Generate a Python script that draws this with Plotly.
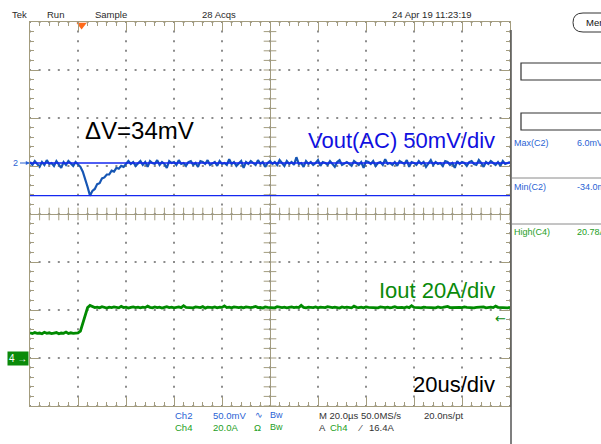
import plotly.graph_objects as go
import numpy as np

# ---------------- data ----------------
time_us = list(range(-100, 101))          # sample times, 1 us apart, 0 = screen centre

vout_mv = [
    # t = -100 .. -81 (before the load step)
    1, -2, 2, -1, -4, 1, -2, 3, -1, 0, -3, 2, -1, -5, 1, -2, 2, 0, -3, 1,
    # t = -80 .. -60 (undershoot and recovery)
    -1, -4, -9, -16, -25, -34, -29, -27, -22, -21, -16, -15, -12, -12, -8, -9, -5, -6, -3, -4, -1,
    # t = -59 .. 100
    2, -1, 1, -3, 0, 2, -2, 1, -4, 2, 0, -1, 3, -2, 1, -1, -5, 2, 0, 1,
    -2, 3, -1, 0, -3, 1, 2, -2, 0, -4, 2, 1, -1, 3, -2, 0, 1, -3, 2, -1,
    0, -2, 4, -1, 1, -3, 0, 2, -5, 1, -1, 2, 0, -2, 3, -1, 1, -4, 0, 2,
    -1, 1, -2, 3, 0, -3, 2, -1, 1, -2, 6, -1, 0, -4, 2, -1, 1, -2, 0, 3,
    -3, 1, 0, -2, 2, -1, -4, 1, 3, -2, 0, 1, -1, -3, 2, 0, -2, 1, -5, 2,
    1, -1, 2, -3, 0, 1, -2, 4, -1, 0, -2, 1, -3, 2, 0, -1, 3, -4, 1, 0,
    -2, 2, -1, 1, -4, 0, 3, -2, 1, -1, 0, -3, 2, 1, -2, 0, -5, 2, -1, 1,
    0, -3, 1, 2, -1, -2, 3, 0, -4, 1, -1, 2, 0, -2, 1, -3, 2, -1, 0, 1,
]

iout_a = [
    # t = -100 .. -80
    10.5, 10.2, 10.6, 10.3, 10.4, 10.1, 10.7, 10.3, 10.5, 10.2, 10.4, 10.6, 10.1, 10.4,
    10.3, 10.8, 10.2, 10.5, 10.3, 10.4, 10.5,
    # t = -79 .. -75 (step)
    11.2, 14.5, 18.2, 21.0, 21.9,
    # t = -74 .. 100
    21.3, 21.0, 21.2, 20.9, 21.4, 21.1, 20.8, 21.2, 21.0, 21.3, 21.1, 20.9, 21.5, 21.0, 21.2, 20.8, 21.1, 21.3, 21.0, 21.2,
    20.9, 21.2, 21.0, 21.6, 21.1, 20.9, 21.3, 21.0, 21.2, 20.8, 21.1, 21.4, 21.0, 21.2, 20.9, 21.1, 21.3, 21.0, 21.8, 21.1,
    21.0, 21.2, 20.9, 21.3, 21.1, 21.0, 21.4, 20.8, 21.2, 21.1, 21.0, 21.3, 20.9, 21.2, 21.1, 21.7, 21.0, 21.2, 20.9, 21.3,
    21.1, 21.0, 21.2, 20.9, 21.3, 21.1, 21.0, 21.2, 21.5, 21.0, 21.1, 20.8, 21.3, 21.1, 21.0, 21.2, 20.9, 21.4, 21.1, 21.0,
    21.2, 20.9, 21.1, 21.3, 21.0, 21.2, 21.0, 21.9, 21.1, 20.9, 21.2, 21.1, 21.0, 21.3, 20.9, 21.2, 21.1, 21.0, 21.4, 21.1,
    21.0, 21.2, 21.1, 20.8, 21.3, 21.0, 21.2, 21.1, 20.9, 21.6, 21.1, 21.0, 21.2, 20.9, 21.3, 21.1, 21.0, 21.2, 21.1, 20.9,
    21.3, 21.1, 21.0, 21.2, 20.9, 21.1, 21.4, 21.0, 21.2, 21.1, 20.9, 21.3, 21.0, 21.8, 21.1, 21.2, 21.0, 20.9, 21.2, 21.1,
    21.0, 21.2, 21.1, 20.9, 21.3, 21.0, 21.1, 21.2, 21.5, 21.0, 21.1, 20.9, 21.2, 21.1, 21.0, 21.3, 21.1, 21.0, 21.2, 20.9,
    21.1, 21.2, 21.0, 21.3, 20.9, 21.1, 21.2, 21.0, 21.6, 21.1, 21.0, 21.2, 21.1, 20.9, 21.1,
]

cursor_mv = [0, -34]
trigger_level_a = 16.4
trigger_time_us = -78.5

header_labels = ["Tek", "Run", "Sample", "28 Acqs", "24 Apr 19 11:23:19"]

# ---------------- geometry ----------------
W, H = 601, 444
L, R, T, B = 30, 91, 22, 38
PW, PH = W - L - R, H - T - B          # 480 x 384 -> 48 px per division
DIV = 48.0
MV_PER_DIV, A_PER_DIV, US_PER_DIV = 50.0, 20.0, 20.0
CH2_ZERO_PX, CH4_ZERO_PX = 163.0, 358.0

def px(x):
    return (x - L) / PW

def py(y):
    return 1 - (y - T) / PH

v_range = [-(T + PH - CH2_ZERO_PX) / DIV * MV_PER_DIV, (CH2_ZERO_PX - T) / DIV * MV_PER_DIV]
a_range = [-(T + PH - CH4_ZERO_PX) / DIV * A_PER_DIV, (CH4_ZERO_PX - T) / DIV * A_PER_DIV]

FRAME = "#a39c7e"
DOT = "#8c8c8c"
BLUE_TR = "#1656b4"
BLUE_CUR = "#1428f0"
BLUE_TXT = "#1010e0"
GREEN = "#008a00"
FONT = "Liberation Sans, Arial, sans-serif"

fig = go.Figure()

# dotted graticule: dots every 1/5 division along each major division line
gx, gy = [], []
for xm in np.arange(-100, 100.001, US_PER_DIV):
    for yv in np.arange(-4, 4.001, 0.2):
        gx.append(xm); gy.append(yv)
for ym in np.arange(-4, 4.001, 1):
    for xv in np.arange(-100, 100.001, US_PER_DIV / 5):
        gx.append(xv); gy.append(ym)
fig.add_trace(go.Scatter(x=gx, y=gy, mode="markers", hoverinfo="skip",
                         marker=dict(symbol="square", size=2, color=DOT, line=dict(width=0))))

# centre-line graticule ticks
xt = np.arange(-100, 100.001, US_PER_DIV / 5)
yt = np.arange(-4, 4.001, 0.2)
fig.add_trace(go.Scatter(x=xt, y=[0] * len(xt), mode="markers", hoverinfo="skip",
                         marker=dict(symbol="line-ns-open", size=9, color=FRAME,
                                     line=dict(color=FRAME, width=1))))
fig.add_trace(go.Scatter(x=[0] * len(yt), y=yt, mode="markers", hoverinfo="skip",
                         marker=dict(symbol="line-ew-open", size=9, color=FRAME,
                                     line=dict(color=FRAME, width=1))))

# channel 4 : Iout
fig.add_trace(go.Scatter(x=time_us, y=iout_a, yaxis="y3", mode="lines",
                         line=dict(color=GREEN, width=2.8)))
# channel 2 : Vout
fig.add_trace(go.Scatter(x=time_us, y=vout_mv, yaxis="y2", mode="lines",
                         line=dict(color=BLUE_TR, width=2.2)))
# cursors
for c in cursor_mv:
    fig.add_trace(go.Scatter(x=[-100, 100], y=[c, c], yaxis="y2", mode="lines",
                             line=dict(color=BLUE_CUR, width=1.4)))
# trigger position marker
fig.add_trace(go.Scatter(x=[trigger_time_us], y=[4 - 3 / DIV], mode="markers", cliponaxis=False,
                         marker=dict(symbol="triangle-down", size=9, color="#ff6a1a")))

axis_common = dict(showticklabels=False, ticks="inside", tickcolor=FRAME, tickwidth=1,
                   showline=True, linecolor=FRAME, linewidth=1, mirror="ticks",
                   showgrid=False, zeroline=True, zerolinecolor=FRAME, zerolinewidth=1,
                   fixedrange=True)

fig.update_layout(
    width=W, height=H, margin=dict(l=L, r=R, t=T, b=B),
    paper_bgcolor="white", plot_bgcolor="white", showlegend=False,
    font=dict(family=FONT),
    xaxis=dict(range=[-100, 100], tickmode="linear", tick0=0, dtick=US_PER_DIV, ticklen=9,
               minor=dict(dtick=US_PER_DIV / 5, tick0=0, ticklen=4, ticks="inside",
                          tickcolor=FRAME, showgrid=False), **axis_common),
    yaxis=dict(range=[-4, 4], tickmode="linear", tick0=0, dtick=1, ticklen=9,
               minor=dict(dtick=0.2, tick0=0, ticklen=4, ticks="inside",
                          tickcolor=FRAME, showgrid=False), **axis_common),
    yaxis2=dict(range=v_range, overlaying="y", visible=False, fixedrange=True),
    yaxis3=dict(range=a_range, overlaying="y", visible=False, fixedrange=True),
)

ann = []
def text(x, y, s, size=10, color="#2a2a2a", xanchor="left", **kw):
    ann.append(dict(x=px(x), y=py(y), xref="paper", yref="paper", text=s, showarrow=False,
                    xanchor=xanchor, yanchor="middle", font=dict(size=size, color=color, family=FONT), **kw))

# header
for s, x in zip(header_labels, [10, 45, 93, 200, 390]):
    text(x, 15, s, size=9.5)

# big annotations
text(83, 130, "ΔV=34mV", size=24, color="black")
text(497, 140, "Vout(AC) 50mV/div", size=22, color=BLUE_TXT, xanchor="right")
text(497, 290, "Iout 20A/div", size=22, color="#0a8a0a", xanchor="right")
text(497, 384, "20us/div", size=22, color="black", xanchor="right")

# bottom info
CB, CG = "#2a62d4", "#1e9e1e"
text(173, 415, "Ch2", 9.5, CB); text(211, 415, "50.0mV", 9.5, CB)
text(253, 415, "∿", 9, CB); text(268, 415, "Bw", 9, CB)
text(173, 427, "Ch4", 9.5, CG); text(211, 427, "20.0A", 9.5, CG)
text(252, 427, "Ω", 9.5, CG); text(268, 427, "Bw", 9, CG)
text(317, 415, "M 20.0µs 50.0MS/s", 9.5, "#333333")
text(422, 415, "20.0ns/pt", 9.5, "#333333")
text(317, 427, "A", 9.5, "#333333"); text(328, 427, "Ch4", 9.5, CG)
text(356, 427, "⁄", 9.5, "#333333"); text(367, 427, "16.4A", 9.5, "#333333")

# right panel
text(512, 143, "Max(C2)", 9, "#2a62d4"); text(575, 143, "6.0mV", 9, "#2a62d4")
text(512, 187, "Min(C2)", 9, "#2a62d4"); text(575, 187, "-34.0mV", 9, "#2a62d4")
text(512, 232, "High(C4)", 9, CG); text(575, 232, "20.78A", 9, CG)
text(584, 23, "Menu", 9.5, "#111111")

# channel markers
ann.append(dict(x=0, y=0, xref="paper", yref="y2", text="2", showarrow=True, ax=-10, ay=0,
                arrowhead=2, arrowsize=0.7, arrowwidth=1.2, arrowcolor="#2a62d4", xanchor="right",
                font=dict(size=9, color="#2a62d4", family=FONT)))
ann.append(dict(x=px(29), y=0, xref="paper", yref="y3", text="4 →", showarrow=False,
                xanchor="right", yanchor="middle", bgcolor="#0a8a0a", borderpad=1,
                font=dict(size=10, color="white", family=FONT)))
ann.append(dict(x=px(508), y=trigger_level_a, xref="paper", yref="y3", text="←", showarrow=False,
                xanchor="right", yanchor="middle",
                font=dict(size=13, color="#0a8a0a", family="DejaVu Sans")))
fig.update_layout(annotations=ann)

# panel decorations
shapes = []
for y0, y1 in [(63, 80), (113, 130)]:
    shapes.append(dict(type="rect", xref="paper", yref="paper", x0=px(521), x1=px(606),
                       y0=py(y1), y1=py(y0), line=dict(color="#333333", width=1.2)))
for y in [178, 224]:
    shapes.append(dict(type="line", xref="paper", yref="paper", x0=px(512), x1=px(601),
                       y0=py(y), y1=py(y), line=dict(color="#8a8a8a", width=1)))
shapes.append(dict(type="line", xref="paper", yref="paper", x0=px(511), x1=px(511),
                   y0=py(30), y1=py(444), line=dict(color="#555555", width=1.5)))
menu = (f"M {px(583)} {py(13)} L {px(610)} {py(13)} L {px(610)} {py(32)} L {px(583)} {py(32)} "
        f"Q {px(573)} {py(32)} {px(573)} {py(22.5)} Q {px(573)} {py(13)} {px(583)} {py(13)} Z")
shapes.append(dict(type="path", xref="paper", yref="paper", path=menu, line=dict(color="#333333", width=1)))
fig.update_layout(shapes=shapes)

fig.write_html("out.html", config={"displayModeBar": False},
               post_script="document.body.style.margin='0px';")
